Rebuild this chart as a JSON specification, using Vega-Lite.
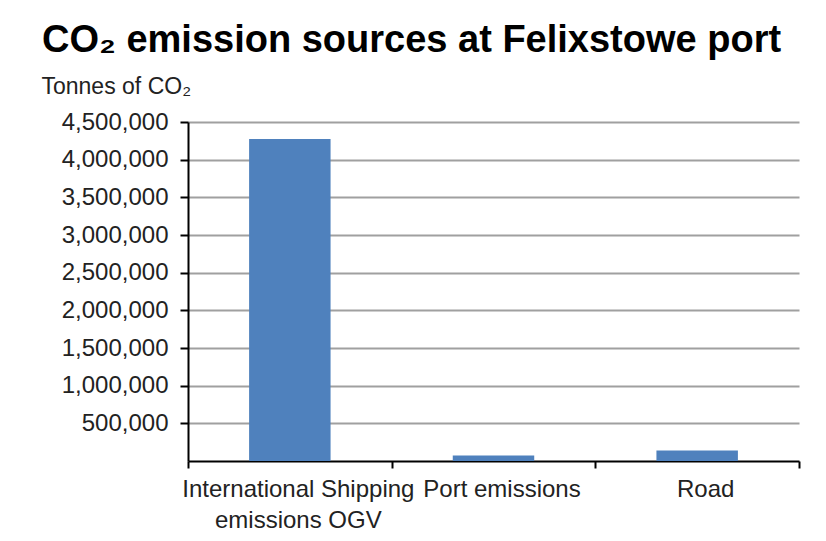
{
  "$schema": "https://vega.github.io/schema/vega-lite/v6.json",
  "autosize": {"type": "none"},
  "width": 611,
  "height": 339,
  "padding": {"left": 188, "top": 122, "right": 27, "bottom": 80},
  "background": "white",
  "title": {
    "text": "CO₂ emission sources at Felixstowe port",
    "anchor": "start",
    "frame": "group",
    "dx": -146,
    "offset": -15,
    "baseline": "alphabetic",
    "font": "Liberation Sans",
    "fontSize": 38,
    "fontWeight": "bold",
    "color": "#000000"
  },
  "data": {
    "values": [
      {"source": "International Shipping emissions OGV", "tonnes": 4275000},
      {"source": "Port emissions", "tonnes": 73000},
      {"source": "Road", "tonnes": 140000}
    ]
  },
  "mark": {"type": "bar", "color": "#4f81bd", "width": {"band": 0.4}},
  "encoding": {
    "x": {
      "field": "source",
      "type": "nominal",
      "sort": null,
      "scale": {"paddingInner": 0, "paddingOuter": 0},
      "axis": {
        "title": null,
        "labelAngle": 0,
        "labelFont": "Liberation Sans",
        "labelFontSize": 24,
        "labelColor": "#222222",
        "labelLineHeight": 31,
        "labelPadding": 9,
        "labelOffset": 8,
        "labelLimit": 400,
        "labelExpr": "datum.label == 'International Shipping emissions OGV' ? ['International Shipping', 'emissions OGV'] : datum.label",
        "tickBand": "extent",
        "tickSize": 7,
        "tickColor": "#000000",
        "tickWidth": 2,
        "domainColor": "#000000",
        "domainWidth": 2,
        "grid": false
      }
    },
    "y": {
      "field": "tonnes",
      "type": "quantitative",
      "scale": {"domain": [0, 4500000], "nice": false},
      "axis": {
        "title": "Tonnes of CO₂",
        "titleAngle": 0,
        "titleAlign": "left",
        "titleBaseline": "alphabetic",
        "titleX": -147,
        "titleY": -29,
        "titleFont": "Liberation Sans",
        "titleFontSize": 23,
        "titleFontWeight": "normal",
        "titleColor": "#222222",
        "values": [500000, 1000000, 1500000, 2000000, 2500000, 3000000, 3500000, 4000000, 4500000],
        "format": ",.0f",
        "labelFont": "Liberation Sans",
        "labelFontSize": 24,
        "labelColor": "#222222",
        "labelPadding": 12,
        "tickSize": 8,
        "tickColor": "#000000",
        "tickWidth": 2,
        "domainColor": "#000000",
        "domainWidth": 2,
        "grid": true,
        "gridColor": "#a0a0a0",
        "gridWidth": 2
      }
    }
  },
  "config": {
    "view": {"stroke": null}
  }
}
